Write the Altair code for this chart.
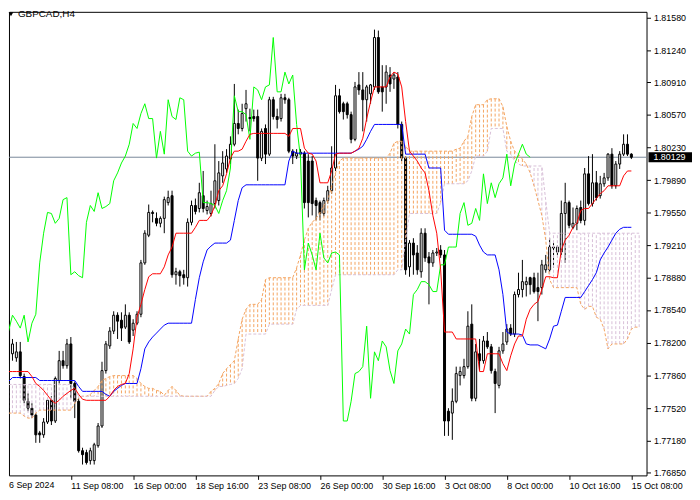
import altair as alt
import pandas as pd

chart_title = "GBPCAD,H4"
last_price = 1.80129
last_label = "1.80129"

opens = [1.78424, 1.78085, 1.78043, 1.78105, 1.77848, 1.77591, 1.77519, 1.77447, 1.77262, 1.77242,
         1.77375, 1.77601, 1.77386, 1.77807, 1.78013, 1.77961, 1.78187, 1.77776, 1.77591, 1.77077,
         1.77057, 1.76974, 1.76974, 1.77129, 1.77334, 1.77910, 1.78167, 1.78321, 1.78486, 1.78434,
         1.78362, 1.78486, 1.78331, 1.78403, 1.78496, 1.79030, 1.79318, 1.79555, 1.79493, 1.79442,
         1.79493, 1.79657, 1.79729, 1.78907, 1.78938, 1.78907, 1.78876, 1.79452, 1.79627, 1.79596,
         1.79729, 1.79575, 1.79544, 1.79647, 1.79678, 1.79935, 1.80007, 1.80110, 1.80264, 1.80480,
         1.80428, 1.80634, 1.80542, 1.80552, 1.80552, 1.80120, 1.80428, 1.80161, 1.80727, 1.80552,
         1.80531, 1.80747, 1.80727, 1.80192, 1.80141, 1.80161, 1.80171, 1.80089, 1.80089, 1.79678,
         1.79657, 1.79544, 1.79678, 1.79781, 1.80017, 1.80768, 1.80685, 1.80685, 1.80572, 1.80315,
         1.80881, 1.80829, 1.80727, 1.80788, 1.80860, 1.81374, 1.80860, 1.80860, 1.80984, 1.80942,
         1.80963, 1.80470, 1.80120, 1.78989, 1.79236, 1.79133, 1.78938, 1.79339, 1.79092, 1.79030,
         1.79133, 1.79164, 1.79113, 1.77488, 1.77468, 1.77591, 1.77858, 1.77858, 1.77951, 1.78393,
         1.77622, 1.78085, 1.78013, 1.78218, 1.78157, 1.77900, 1.77756, 1.78115, 1.78208, 1.78352,
         1.78290, 1.78701, 1.78753, 1.78804, 1.78876, 1.78876, 1.78773, 1.78773, 1.78958, 1.78958,
         1.79185, 1.79143, 1.79143, 1.79544, 1.79657, 1.79400, 1.79442, 1.79606, 1.79472, 1.79956,
         1.79647, 1.79863, 1.79729, 1.79853, 1.79914, 1.80161, 1.79832, 1.80058, 1.80161, 1.80264,
         1.80161]

highs = [1.78496, 1.78239, 1.78208, 1.78208, 1.77879, 1.77673, 1.77571, 1.77468, 1.77283, 1.77416,
         1.77622, 1.77643, 1.77848, 1.78115, 1.78115, 1.78239, 1.78259, 1.77797, 1.77622, 1.77108,
         1.77087, 1.77108, 1.77159, 1.77365, 1.78002, 1.78218, 1.78362, 1.78527, 1.78516, 1.78516,
         1.78599, 1.78516, 1.78444, 1.78527, 1.79061, 1.79370, 1.79637, 1.79575, 1.79555, 1.79514,
         1.79719, 1.79781, 1.79781, 1.78979, 1.78958, 1.78958, 1.79493, 1.79678, 1.79699, 1.79863,
         1.79986, 1.79678, 1.79781, 1.80264, 1.80089, 1.80192, 1.80213, 1.80346, 1.80891, 1.80624,
         1.80685, 1.80829, 1.80634, 1.80624, 1.80624, 1.80428, 1.80470, 1.80757, 1.80757, 1.80634,
         1.80788, 1.80788, 1.80747, 1.80213, 1.80213, 1.80213, 1.80192, 1.80161, 1.80141, 1.79709,
         1.79678, 1.79709, 1.79832, 1.80243, 1.80881, 1.80840, 1.80706, 1.80706, 1.80603, 1.80912,
         1.81014, 1.81014, 1.80881, 1.80891, 1.81456, 1.81446, 1.81086, 1.81086, 1.81066, 1.81014,
         1.81014, 1.80500, 1.80141, 1.79267, 1.79287, 1.79215, 1.79390, 1.79390, 1.79143, 1.79164,
         1.79185, 1.79215, 1.79164, 1.77519, 1.77725, 1.77951, 1.77951, 1.78033, 1.78527, 1.78599,
         1.78187, 1.78239, 1.78270, 1.78311, 1.78187, 1.77930, 1.78157, 1.78311, 1.78393, 1.78393,
         1.78732, 1.78928, 1.79061, 1.78886, 1.78886, 1.78928, 1.78928, 1.79061, 1.79113, 1.79287,
         1.79236, 1.79215, 1.79678, 1.79863, 1.79678, 1.79606, 1.79627, 1.79678, 1.80017, 1.80141,
         1.80161, 1.79986, 1.79935, 1.79966, 1.80171, 1.80223, 1.80089, 1.80192, 1.80367, 1.80367,
         1.80171]

lows = [1.77982, 1.78013, 1.78002, 1.77828, 1.77571, 1.77488, 1.77416, 1.77159, 1.77159, 1.77211,
        1.77355, 1.77344, 1.77365, 1.77776, 1.77930, 1.77930, 1.77622, 1.77416, 1.77057, 1.76933,
        1.76933, 1.76933, 1.76933, 1.77108, 1.77314, 1.77879, 1.78136, 1.78290, 1.78239, 1.78218,
        1.78342, 1.78187, 1.78270, 1.78383, 1.78465, 1.79010, 1.79298, 1.79452, 1.79411, 1.79400,
        1.79339, 1.79627, 1.78876, 1.78804, 1.78784, 1.78804, 1.78784, 1.79421, 1.79534, 1.79555,
        1.79555, 1.79534, 1.79514, 1.79596, 1.79627, 1.79863, 1.79966, 1.80058, 1.80243, 1.80367,
        1.80398, 1.80500, 1.80398, 1.80500, 1.79884, 1.80089, 1.80058, 1.80141, 1.80521, 1.80428,
        1.80500, 1.80685, 1.80171, 1.80058, 1.80110, 1.80130, 1.79596, 1.79503, 1.79524, 1.79472,
        1.79472, 1.79514, 1.79647, 1.79750, 1.79986, 1.80583, 1.80521, 1.80531, 1.80274, 1.80295,
        1.80778, 1.80398, 1.80500, 1.80685, 1.80829, 1.80788, 1.80603, 1.80685, 1.80809, 1.80840,
        1.80428, 1.80089, 1.78907, 1.78886, 1.78907, 1.78907, 1.78876, 1.79041, 1.78599, 1.78989,
        1.79102, 1.79082, 1.77231, 1.77231, 1.77190, 1.77571, 1.77756, 1.77828, 1.77930, 1.77591,
        1.77591, 1.77910, 1.77982, 1.78136, 1.77879, 1.77468, 1.77725, 1.78085, 1.78177, 1.78270,
        1.78259, 1.78671, 1.78671, 1.78681, 1.78701, 1.78712, 1.78424, 1.78701, 1.78928, 1.78938,
        1.78979, 1.79113, 1.79113, 1.79030, 1.79390, 1.79380, 1.79370, 1.79442, 1.79421, 1.79627,
        1.79616, 1.79678, 1.79699, 1.79822, 1.79884, 1.79801, 1.79801, 1.80007, 1.80141, 1.80141,
        1.80110]

closes = [1.78023, 1.78187, 1.78105, 1.77858, 1.77601, 1.77519, 1.77447, 1.77242, 1.77242, 1.77375,
          1.77601, 1.77386, 1.77828, 1.78013, 1.77961, 1.78187, 1.77776, 1.77591, 1.77077, 1.77036,
          1.76954, 1.77077, 1.77139, 1.77334, 1.77910, 1.78187, 1.78321, 1.78486, 1.78424, 1.78352,
          1.78486, 1.78208, 1.78403, 1.78496, 1.79030, 1.79339, 1.79555, 1.79544, 1.79442, 1.79493,
          1.79688, 1.79709, 1.78907, 1.78938, 1.78897, 1.78876, 1.79452, 1.79627, 1.79565, 1.79760,
          1.79596, 1.79616, 1.79647, 1.79884, 1.79966, 1.80069, 1.80141, 1.80264, 1.80480, 1.80428,
          1.80583, 1.80685, 1.80531, 1.80531, 1.80120, 1.80398, 1.80161, 1.80727, 1.80552, 1.80521,
          1.80747, 1.80727, 1.80192, 1.80141, 1.80171, 1.80182, 1.79657, 1.79657, 1.79647, 1.79627,
          1.79544, 1.79678, 1.79781, 1.80017, 1.80768, 1.80603, 1.80603, 1.80572, 1.80315, 1.80860,
          1.80829, 1.80727, 1.80860, 1.80881, 1.81374, 1.80809, 1.80809, 1.81014, 1.80891, 1.80984,
          1.80470, 1.80120, 1.78958, 1.79236, 1.79113, 1.78958, 1.79339, 1.79082, 1.79030, 1.79133,
          1.79143, 1.79113, 1.77386, 1.77386, 1.77591, 1.77879, 1.77900, 1.77951, 1.78372, 1.77622,
          1.78105, 1.78013, 1.78218, 1.78157, 1.77910, 1.77776, 1.78115, 1.78187, 1.78342, 1.78290,
          1.78701, 1.78753, 1.78835, 1.78835, 1.78804, 1.78732, 1.78732, 1.79010, 1.79010, 1.79195,
          1.79195, 1.79195, 1.79544, 1.79657, 1.79421, 1.79442, 1.79596, 1.79472, 1.79956, 1.79647,
          1.79863, 1.79709, 1.79853, 1.79914, 1.80161, 1.79832, 1.80058, 1.80161, 1.80264, 1.80161,
          1.80129]

tenkan = [1.77900, 1.77900, 1.77900, 1.77900, 1.77900, 1.77900, 1.77848, 1.77776, 1.77745, 1.77704,
          1.77653, 1.77601, 1.77571, 1.77601, 1.77643, 1.77673, 1.77704, 1.77725, 1.77663, 1.77612,
          1.77601, 1.77601, 1.77601, 1.77601, 1.77601, 1.77601, 1.77643, 1.77704, 1.77745, 1.77766,
          1.77776, 1.77879, 1.78136, 1.78465, 1.78599, 1.78753, 1.78886, 1.78917, 1.78917, 1.78917,
          1.78989, 1.79113, 1.79195, 1.79339, 1.79339, 1.79339, 1.79339, 1.79339, 1.79400, 1.79472,
          1.79472, 1.79472, 1.79524, 1.79627, 1.79781, 1.79832, 1.79956, 1.80120, 1.80192, 1.80192,
          1.80213, 1.80295, 1.80367, 1.80377, 1.80377, 1.80377, 1.80377, 1.80377, 1.80377, 1.80377,
          1.80377, 1.80377, 1.80346, 1.80428, 1.80428, 1.80428, 1.80223, 1.80171, 1.80161, 1.80089,
          1.79863, 1.79863, 1.79863, 1.79986, 1.80161, 1.80171, 1.80171, 1.80171, 1.80171, 1.80192,
          1.80223, 1.80326, 1.80531, 1.80706, 1.80860, 1.80860, 1.80860, 1.80860, 1.80963, 1.81014,
          1.80994, 1.80860, 1.80500, 1.80192, 1.80141, 1.80089, 1.80017, 1.79966, 1.79781, 1.79524,
          1.79339, 1.78958, 1.78311, 1.78311, 1.78311, 1.78239, 1.78239, 1.78239, 1.78239, 1.78239,
          1.78239, 1.77900, 1.77900, 1.78085, 1.78085, 1.78085, 1.78085, 1.77982, 1.77910, 1.78064,
          1.78187, 1.78270, 1.78270, 1.78444, 1.78547, 1.78599, 1.78629, 1.78753, 1.78886, 1.78886,
          1.78876, 1.78876, 1.79164, 1.79267, 1.79318, 1.79400, 1.79442, 1.79575, 1.79596, 1.79596,
          1.79647, 1.79699, 1.79750, 1.79781, 1.79832, 1.79832, 1.79832, 1.79832, 1.79935, 1.79986,
          1.79986]

kijun = [1.77797, 1.77838, 1.77838, 1.77838, 1.77838, 1.77838, 1.77838, 1.77838, 1.77807, 1.77807,
         1.77807, 1.77807, 1.77807, 1.77807, 1.77807, 1.77807, 1.77807, 1.77807, 1.77745, 1.77694,
         1.77694, 1.77694, 1.77694, 1.77694, 1.77694, 1.77663, 1.77643, 1.77694, 1.77725, 1.77756,
         1.77776, 1.77776, 1.77776, 1.77776, 1.77930, 1.78136, 1.78208, 1.78259, 1.78300, 1.78342,
         1.78383, 1.78403, 1.78403, 1.78403, 1.78403, 1.78403, 1.78403, 1.78403, 1.78650, 1.78876,
         1.79041, 1.79164, 1.79205, 1.79236, 1.79236, 1.79236, 1.79236, 1.79267, 1.79472, 1.79678,
         1.79812, 1.79842, 1.79842, 1.79842, 1.79842, 1.79842, 1.79842, 1.79842, 1.79842, 1.79842,
         1.79842, 1.79842, 1.80089, 1.80192, 1.80171, 1.80171, 1.80171, 1.80171, 1.80171, 1.80171,
         1.80171, 1.80171, 1.80171, 1.80171, 1.80171, 1.80171, 1.80171, 1.80171, 1.80171, 1.80192,
         1.80213, 1.80243, 1.80315, 1.80398, 1.80470, 1.80470, 1.80470, 1.80470, 1.80470, 1.80470,
         1.80470, 1.80470, 1.80161, 1.80161, 1.80161, 1.80161, 1.80161, 1.80161, 1.80017, 1.80017,
         1.80017, 1.80017, 1.79370, 1.79328, 1.79328, 1.79328, 1.79328, 1.79328, 1.79328, 1.79328,
         1.79308, 1.79215, 1.79143, 1.79113, 1.79113, 1.79113, 1.78958, 1.78701, 1.78311, 1.78290,
         1.78290, 1.78290, 1.78280, 1.78187, 1.78177, 1.78177, 1.78177, 1.78157, 1.78136, 1.78239,
         1.78372, 1.78383, 1.78527, 1.78671, 1.78671, 1.78671, 1.78671, 1.78671, 1.78732, 1.78794,
         1.78856, 1.78928, 1.79061, 1.79133, 1.79195, 1.79267, 1.79339, 1.79380, 1.79400, 1.79400,
         1.79400]

span_a = [1.77468, 1.77468, 1.77468, 1.77468, 1.77437, 1.77416, 1.77416, 1.77468, 1.77499, 1.77499,
          1.77499, 1.77499, 1.77499, 1.77499, 1.77499, 1.77499, 1.77499, 1.77571, 1.77622, 1.77643,
          1.77643, 1.77663, 1.77704, 1.77745, 1.77807, 1.77828, 1.77848, 1.77858, 1.77858, 1.77858,
          1.77858, 1.77858, 1.77858, 1.77828, 1.77776, 1.77745, 1.77725, 1.77725, 1.77704, 1.77694,
          1.77653, 1.77704, 1.77745, 1.77704, 1.77653, 1.77643, 1.77643, 1.77643, 1.77643, 1.77643,
          1.77643, 1.77643, 1.77694, 1.77725, 1.77776, 1.77879, 1.77930, 1.77972, 1.78013, 1.78239,
          1.78444, 1.78547, 1.78599, 1.78599, 1.78599, 1.78650, 1.78856, 1.78876, 1.78876, 1.78876,
          1.78876, 1.78876, 1.78876, 1.78876, 1.78979, 1.79113, 1.79267, 1.79390, 1.79452, 1.79493,
          1.79555, 1.79627, 1.79678, 1.79832, 1.79966, 1.80089, 1.80120, 1.80120, 1.80120, 1.80120,
          1.80120, 1.80120, 1.80120, 1.80120, 1.80120, 1.80120, 1.80120, 1.80120, 1.80171, 1.80274,
          1.80295, 1.80295, 1.80243, 1.80192, 1.80192, 1.80192, 1.80192, 1.80192, 1.80192, 1.80192,
          1.80192, 1.80192, 1.80192, 1.80192, 1.80192, 1.80213, 1.80223, 1.80295, 1.80346, 1.80552,
          1.80675, 1.80675, 1.80675, 1.80727, 1.80737, 1.80737, 1.80737, 1.80655, 1.80449, 1.80295,
          1.80192, 1.80161, 1.80110, 1.80058, 1.79966, 1.79832, 1.79678, 1.79524, 1.79267, 1.78856,
          1.78773, 1.78773, 1.78773, 1.78773, 1.78773, 1.78773, 1.78773, 1.78599, 1.78547, 1.78578,
          1.78578, 1.78465, 1.78444, 1.78342, 1.78136, 1.78187, 1.78187, 1.78187, 1.78187, 1.78239,
          1.78342, 1.78362, 1.78362]

span_b = [1.77766, 1.77766, 1.77766, 1.77766, 1.77766, 1.77766, 1.77766, 1.77766, 1.77766, 1.77766,
          1.77766, 1.77766, 1.77766, 1.77766, 1.77766, 1.77766, 1.77766, 1.77725, 1.77643, 1.77643,
          1.77643, 1.77643, 1.77643, 1.77643, 1.77643, 1.77643, 1.77643, 1.77643, 1.77643, 1.77643,
          1.77643, 1.77643, 1.77643, 1.77643, 1.77643, 1.77643, 1.77643, 1.77643, 1.77643, 1.77643,
          1.77643, 1.77643, 1.77643, 1.77643, 1.77643, 1.77643, 1.77643, 1.77643, 1.77643, 1.77643,
          1.77643, 1.77643, 1.77643, 1.77704, 1.77745, 1.77745, 1.77756, 1.77766, 1.77776, 1.77828,
          1.77930, 1.78290, 1.78290, 1.78290, 1.78290, 1.78290, 1.78290, 1.78393, 1.78393, 1.78393,
          1.78393, 1.78393, 1.78393, 1.78393, 1.78547, 1.78588, 1.78588, 1.78588, 1.78588, 1.78588,
          1.78588, 1.78588, 1.78588, 1.78753, 1.78907, 1.78907, 1.78907, 1.78907, 1.78907, 1.78907,
          1.78907, 1.78907, 1.78907, 1.78907, 1.78907, 1.78907, 1.78907, 1.78907, 1.78907, 1.78907,
          1.78958, 1.78958, 1.79267, 1.79544, 1.79544, 1.79544, 1.79544, 1.79544, 1.79544, 1.79544,
          1.79544, 1.79657, 1.79853, 1.79853, 1.79853, 1.79853, 1.79853, 1.79853, 1.79884, 1.79986,
          1.80141, 1.80141, 1.80141, 1.80192, 1.80428, 1.80428, 1.80428, 1.80428, 1.80192, 1.80161,
          1.80089, 1.80058, 1.80038, 1.80038, 1.80038, 1.80038, 1.80038, 1.80038, 1.79678, 1.79339,
          1.79339, 1.79339, 1.79339, 1.79339, 1.79339, 1.79339, 1.79339, 1.79339, 1.79339, 1.79339,
          1.79339, 1.79339, 1.79339, 1.79339, 1.79339, 1.79339, 1.79339, 1.79339, 1.79339, 1.79339,
          1.79339, 1.79339, 1.79339]

chikou_shift = 26

tick_bars = [0, 16, 32, 48, 64, 80, 96, 112, 128, 144, 160]
tick_labels = ["6 Sep 2024", "11 Sep 08:00", "16 Sep 00:00", "18 Sep 16:00", "23 Sep 08:00",
               "26 Sep 00:00", "30 Sep 16:00", "3 Oct 08:00", "8 Oct 00:00", "10 Oct 16:00",
               "15 Oct 08:00"]
price_ticks = [1.76850, 1.77180, 1.77520, 1.77860, 1.78200, 1.78540, 1.78880, 1.79210,
               1.79550, 1.79890, 1.80230, 1.80570, 1.80910, 1.81240, 1.81580]

# ---------------- tables ----------------
n = len(closes)
candles = pd.DataFrame({"bar": list(range(n)), "open": opens, "high": highs,
                        "low": lows, "close": closes})
candles["bull"] = candles["close"] >= candles["open"]

cloud = pd.DataFrame({"bar": list(range(len(span_a))), "a": span_a, "b": span_b})
cloud["up"] = cloud["a"] >= cloud["b"]

lines = pd.DataFrame({"bar": list(range(n)), "tenkan": tenkan, "kijun": kijun})
chikou = pd.DataFrame({"bar": list(range(n - chikou_shift)), "chikou": closes[chikou_shift:]})

W, H = 645, 469
FONT = "Liberation Sans"
BAR_PX = 4
X0 = 1.375  # chart scrolled: 4 px per bar, first bars partly hidden at the left edge

xscale = alt.Scale(domain=[X0, X0 + W / BAR_PX], nice=False, zero=False)
yscale = alt.Scale(domain=[1.76820, 1.81641], nice=False, zero=False)

visible = [(b, l) for b, l in zip(tick_bars, tick_labels) if b >= X0]
hidden_first = [(b, l) for b, l in zip(tick_bars, tick_labels) if b < X0]

label_expr = "''"
for b, lab in reversed(visible):
    label_expr = f"datum.value == {b} ? '{lab}' : ({label_expr})"

xaxis = alt.Axis(values=[b for b, _ in visible], labelExpr=label_expr, tickSize=4,
                 tickColor="black", labelColor="black", labelFont=FONT, labelFontSize=9,
                 labelAlign="left", labelBaseline="top", labelPadding=2, domain=False,
                 grid=False, title=None, labelOverlap=False, labelFlush=False, labelBound=False)
yaxis = alt.Axis(orient="right", values=price_ticks, format=".5f", tickSize=4,
                 tickColor="black", labelColor="black", labelFont=FONT, labelFontSize=9,
                 labelPadding=3, domain=False, grid=False, title=None,
                 labelOverlap=False, labelFlush=False, labelBound=False)


def X(field):
    return alt.X(field, scale=xscale, axis=xaxis)


def Y(field):
    return alt.Y(field, scale=yscale, axis=yaxis)


price_df = pd.DataFrame({"p": [last_price], "lo": [last_price - 0.00053],
                         "hi": [last_price + 0.00053], "txt": [last_label]})

price_line = alt.Chart(price_df).mark_rule(color="#778899", strokeWidth=1).encode(
    y=Y("p:Q"), x=alt.value(0), x2=alt.value(W))

wicks = alt.Chart(candles).mark_rule(color="black", strokeWidth=1, clip=True).encode(
    x=X("bar:Q"), y=Y("low:Q"), y2="high:Q")

bodies = alt.Chart(candles).mark_bar(size=2, stroke="black", strokeWidth=1, clip=True).encode(
    x=X("bar:Q"), y=Y("open:Q"), y2="close:Q",
    fill=alt.condition("datum.bull", alt.value("white"), alt.value("black")))

hatch = alt.Chart(cloud).mark_rule(strokeWidth=1, strokeDash=[3, 2], clip=True).encode(
    x=X("bar:Q"), y=Y("a:Q"), y2="b:Q",
    color=alt.condition("datum.up", alt.value("#F4A460"), alt.value("#D8BFD8")))

line_a = alt.Chart(cloud).mark_line(color="#F4A460", strokeWidth=1, strokeDash=[3, 2], clip=True).encode(
    x=X("bar:Q"), y=Y("a:Q"))
line_b = alt.Chart(cloud).mark_line(color="#D8BFD8", strokeWidth=1, strokeDash=[3, 2], clip=True).encode(
    x=X("bar:Q"), y=Y("b:Q"))

chikou_line = alt.Chart(chikou).mark_line(color="#00FF00", strokeWidth=1, clip=True).encode(
    x=X("bar:Q"), y=Y("chikou:Q"))
kijun_line = alt.Chart(lines).mark_line(color="#0000FF", strokeWidth=1, clip=True).encode(
    x=X("bar:Q"), y=Y("kijun:Q"))
tenkan_line = alt.Chart(lines).mark_line(color="#FF0000", strokeWidth=1, clip=True).encode(
    x=X("bar:Q"), y=Y("tenkan:Q"))

tag_box = alt.Chart(price_df).mark_rect(color="black", clip=False).encode(
    x=alt.value(W + 2), x2=alt.value(W + 46), y=Y("lo:Q"), y2="hi:Q")
tag_text = alt.Chart(price_df).mark_text(color="white", align="left", baseline="middle",
                                         font=FONT, fontSize=9, clip=False).encode(
    x=alt.value(W + 7), y=Y("p:Q"), text="txt:N")

first_df = pd.DataFrame({"t": [l for _, l in hidden_first]})
first_label = alt.Chart(first_df).mark_text(align="left", baseline="top", font=FONT,
                                            fontSize=9, color="black", clip=False).encode(
    x=alt.value(0), y=alt.value(H + 6), text="t:N")

title_df = pd.DataFrame({"t": [chart_title]})
title_mark = alt.Chart(title_df).mark_point(shape="triangle-down", filled=True, color="black",
                                            size=22, opacity=1).encode(
    x=alt.value(2), y=alt.value(2.5))
title_text = alt.Chart(title_df).mark_text(align="left", baseline="middle", font=FONT,
                                           fontSize=10, color="black").encode(
    x=alt.value(9), y=alt.value(2.5), text="t:N")

chart = alt.layer(
    price_line, wicks, bodies, hatch, line_a, line_b, chikou_line, kijun_line, tenkan_line,
    tag_box, tag_text, first_label, title_mark, title_text
).properties(
    width=W, height=H,
    autosize=alt.AutoSizeParams(type="none"),
    padding={"left": 1, "top": 1, "right": 46, "bottom": 22},
    background="white",
).configure_view(stroke="black", strokeWidth=1)

chart.save("out.html", embed_options={"renderer": "svg", "actions": False})
